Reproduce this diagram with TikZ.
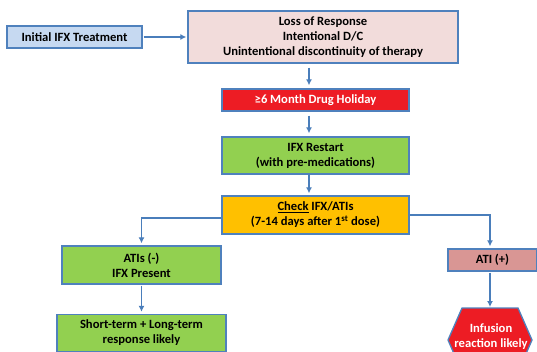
\documentclass[tikz,border=0pt]{standalone}
\usepackage{xcolor}
\usepackage{fontspec}
\setmainfont{Carlito}
\usepackage{tikz}
\usetikzlibrary{calc}
\usetikzlibrary{arrows}
\usetikzlibrary{arrows.meta}
\usetikzlibrary{positioning}
\definecolor{boxline}{HTML}{4F81BD}
\definecolor{lineblue}{HTML}{4A7EBB}
\definecolor{paleblue}{HTML}{C6D9F1}
\definecolor{palepink}{HTML}{F2DCDB}
\definecolor{holired}{HTML}{ED1C24}
\definecolor{restartgreen}{HTML}{92D050}
\definecolor{checkorange}{HTML}{FFC000}
\definecolor{atirose}{HTML}{D99694}
\tikzset{>=latex}
\tikzstyle{flowbox} = [draw = boxline, line width = 1.3pt, align = center, inner sep = 0,
  font = \fontsize{12.6}{15}\selectfont\bfseries]
\tikzstyle{flowarrow} = [-{Latex[length=6pt,width=6pt]}, draw = lineblue, line width = 1.4pt]

\begin{document}
\begin{tikzpicture}[x=1pt, y=-1pt]
\clip (0, 0) rectangle (537, 352);
\fill [white] (0, 0) rectangle (537, 352);
\coordinate (spine) at (309, 0);
\node [flowbox, fill = paleblue, minimum width = 135, minimum height = 22]  (init) at (74.5, 37) {Initial IFX Treatment};
\node [flowbox, fill = palepink, minimum width = 270, minimum height = 52]  (loss) at (323, 37) {Loss of Response\\Intentional D/C\\Unintentional discontinuity of therapy};
\node [flowbox, fill = holired, text = white, minimum width = 187, minimum height = 22]  (holiday) at (315.5, 100) {≥6 Month Drug Holiday};
\node [flowbox, fill = restartgreen, minimum width = 187, minimum height = 37]  (restart) at (315.5, 155.5) {IFX Restart\\(with pre-medications)};
\node [flowbox, fill = checkorange, minimum width = 187, minimum height = 38]  (check) at (315.5, 215) {\underline{Check} IFX/ATIs\\(7-14 days after 1\textsuperscript{st} dose)};
\node [flowbox, fill = restartgreen, minimum width = 159, minimum height = 38]  (atineg) at (141.5, 265) {ATIs (-)\\IFX Present};
\node [flowbox, fill = restartgreen, minimum width = 169, minimum height = 37]  (shortlong) at (141.5, 333) {Short-term + Long-term\\response likely};
\node [flowbox, fill = atirose, minimum width = 89, minimum height = 22]  (atipos) at (492.5, 260) {ATI (+)};
% hexagon runs off the bottom of the page
\draw [draw = boxline, line width = 1.3pt, fill = holired] (462, 308) -- (518, 308) -- (532, 340) -- (518, 372) -- (462, 372) -- (448, 340) -- cycle;
\coordinate (hextop) at (490, 308);
\node [draw = none, align = center, text = white, font = \fontsize{12.6}{15}\selectfont\bfseries]  (infusion) at (491, 337) {Infusion\\reaction likely};
\draw [flowarrow, shorten < = 1pt, shorten > = 1pt] (init) to (loss);
\draw [flowarrow, shorten < = 4pt, shorten > = 3pt] (loss.south -| spine) to (holiday.north -| spine);
\draw [flowarrow, shorten < = 4pt, shorten > = 3pt] (holiday.south -| spine) to (restart.north -| spine);
\draw [flowarrow, shorten > = 2pt] (restart.south -| spine) to (check.north -| spine);
\draw [flowarrow, shorten > = 2pt] ([yshift = -3pt]check.west) -| (atineg.north);
\draw [flowarrow, shorten > = 2pt] (check.east) -| (atipos.north -| hextop);
\draw [flowarrow, shorten < = 1pt, shorten > = 2pt] (atineg) to (shortlong);
\draw [flowarrow, shorten < = 1pt, shorten > = 1pt] (atipos.south -| hextop) to (hextop);
\end{tikzpicture}
\end{document}
